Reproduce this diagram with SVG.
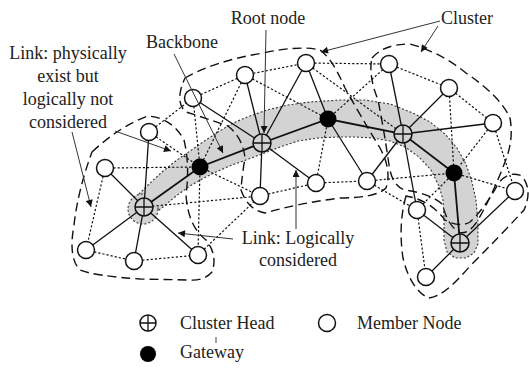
<svg xmlns="http://www.w3.org/2000/svg" width="529" height="368" viewBox="0 0 529 368">
  <style>
    text { font-family: "Liberation Serif", "Times New Roman", "DejaVu Serif", serif; font-size: 18px; fill: #222; }
    .solid { stroke: #111; stroke-width: 1.3; fill: none; }
    .dot { stroke: #111; stroke-width: 1.2; stroke-dasharray: 2.2 2; fill: none; }
    .bb { stroke: #111; stroke-width: 1.8; fill: none; stroke-linecap: round; }
    .clu { stroke: #111; stroke-width: 1.4; stroke-dasharray: 9 5; fill: none; }
    .band { fill: #d3d3d3; stroke: #333; stroke-width: 1.1; stroke-dasharray: 2 2; }
    .bandfill { fill: #d3d3d3; stroke: none; }
    .mem { fill: #fff; stroke: #111; stroke-width: 1.5; }
    .gw { fill: #000; }
    .ch circle { fill: #d3d3d3; stroke: #111; stroke-width: 1.5; }
    .ch path { stroke: #111; stroke-width: 1.3; fill: none; }
    .ptr { stroke: #333; stroke-width: 1; fill: none; marker-end: url(#ah); }
  </style>
  <defs>
    <marker id="ah" viewBox="0 0 10 10" refX="10" refY="5" markerWidth="9" markerHeight="7" markerUnits="userSpaceOnUse" orient="auto">
      <path d="M0,0 L10,5 L0,10 Z" fill="#111"/>
    </marker>
  </defs>

  <rect width="529" height="368" fill="#fff"/>

  <!-- backbone band -->
  <g id="backbone-band">
    <path class="band" d="M136,197 L148,185 L162,172 L177,160 L190,151 L203,142 L218,132 L233,123 L250,116 L267,110 L288,105 L310,102 L340,100 L365,100 L390,104 L413,113 L430,122 L445,134 L457,148 L466,164 L472,182 L476,200 L478,222 L478,244 L474,253 L466,258 L455,258 L447,252 L444,240 L444,218 L443,200 L439,186 L431,170 L419,157 L405,147 L390,141 L373,138 L355,137 L338,137 L318,138 L298,141 L280,147 L262,154 L246,160 L232,165 L218,171 L204,178 L190,186 L176,196 L163,207 L155,213 Z"/>
    <circle class="band" cx="143" cy="209" r="15"/>
    <path class="bandfill" d="M140,199 L160,180 L180,165 L190,170 L170,195 L155,208 Z"/>
  </g>

  <!-- cluster boundaries -->
  <g id="clusters">
    <path class="clu" d="M92,152 Q120,126 148,116 Q172,118 184,140 Q190,165 186,195 Q188,226 206,240 Q218,255 212,272 Q204,281 190,280 L140,279 Q95,276 80,270 Q68,258 74,225 Q78,190 92,152 Z"/>
    <path class="clu" d="M185,78 Q215,61 263,53 Q300,45 320,50 Q332,58 345,88 Q360,115 380,148 Q392,170 386,188 Q376,198 340,198 Q300,203 265,213 Q248,210 241,190 Q242,175 245,158 Q243,138 228,126 Q205,118 186,112 Q174,102 185,78 Z"/>
    <path class="clu" d="M372,58 Q384,44 410,44 Q440,52 466,73 Q500,96 510,118 Q514,140 505,162 Q492,196 478,220 Q468,236 458,232 Q446,222 443,205 Q432,194 405,190 Q392,186 389,165 Q384,130 378,100 Q368,75 372,58 Z"/>
    <path class="clu" d="M406,196 Q398,225 403,258 Q410,288 428,298 Q443,298 470,266 Q500,236 524,210 Q533,190 522,176 Q508,170 498,184 Q485,208 470,222 Q460,228 445,220 Q430,200 406,196 Z"/>
  </g>

  <!-- links -->
  <g id="connectors">
    <!-- logically considered links -->
    <line class="solid" x1="144" y1="207" x2="105" y2="168"/>
    <line class="solid" x1="144" y1="207" x2="149" y2="132"/>
    <line class="solid" x1="144" y1="207" x2="86" y2="250"/>
    <line class="solid" x1="144" y1="207" x2="134" y2="261"/>
    <line class="solid" x1="144" y1="207" x2="198" y2="255"/>
    <line class="solid" x1="262" y1="143" x2="193" y2="98"/>
    <line class="solid" x1="262" y1="143" x2="245" y2="75"/>
    <line class="solid" x1="262" y1="143" x2="306" y2="63"/>
    <line class="solid" x1="262" y1="143" x2="260" y2="196"/>
    <line class="solid" x1="262" y1="143" x2="316" y2="183"/>
    <line class="solid" x1="328" y1="119" x2="306" y2="63"/>
    <line class="solid" x1="328" y1="119" x2="367" y2="181"/>
    <line class="solid" x1="403" y1="134" x2="389" y2="64"/>
    <line class="solid" x1="403" y1="134" x2="449" y2="88"/>
    <line class="solid" x1="403" y1="134" x2="493" y2="123"/>
    <line class="solid" x1="403" y1="134" x2="367" y2="181"/>
    <line class="solid" x1="403" y1="134" x2="417" y2="210"/>
    <line class="solid" x1="460" y1="243" x2="417" y2="210"/>
    <line class="solid" x1="460" y1="243" x2="515" y2="191"/>
    <line class="solid" x1="460" y1="243" x2="426" y2="277"/>
    <!-- backbone -->
    <polyline class="bb" points="144,207 200,167 262,143 328,119 403,134 454,173 460,243"/>
    <!-- physical links not used -->
    <line class="dot" x1="105" y1="168" x2="86" y2="250"/>
    <line class="dot" x1="86" y1="250" x2="134" y2="261"/>
    <line class="dot" x1="134" y1="261" x2="198" y2="255"/>
    <line class="dot" x1="105" y1="168" x2="200" y2="167"/>
    <line class="dot" x1="200" y1="167" x2="198" y2="255"/>
    <line class="dot" x1="144" y1="207" x2="260" y2="196"/>
    <line class="dot" x1="200" y1="167" x2="260" y2="196"/>
    <line class="dot" x1="198" y1="255" x2="260" y2="196"/>
    <line class="dot" x1="149" y1="132" x2="193" y2="98"/>
    <line class="dot" x1="149" y1="132" x2="200" y2="167"/>
    <line class="dot" x1="193" y1="98" x2="200" y2="167"/>
    <line class="dot" x1="193" y1="98" x2="245" y2="75"/>
    <line class="dot" x1="245" y1="75" x2="200" y2="167"/>
    <line class="dot" x1="245" y1="75" x2="306" y2="63"/>
    <line class="dot" x1="245" y1="75" x2="328" y2="119"/>
    <line class="dot" x1="306" y1="63" x2="389" y2="64"/>
    <line class="dot" x1="306" y1="63" x2="403" y2="134"/>
    <line class="dot" x1="389" y1="64" x2="328" y2="119"/>
    <line class="dot" x1="260" y1="196" x2="316" y2="183"/>
    <line class="dot" x1="316" y1="183" x2="367" y2="181"/>
    <line class="dot" x1="328" y1="119" x2="316" y2="183"/>
    <line class="dot" x1="389" y1="64" x2="449" y2="88"/>
    <line class="dot" x1="449" y1="88" x2="493" y2="123"/>
    <line class="dot" x1="449" y1="88" x2="454" y2="173"/>
    <line class="dot" x1="493" y1="123" x2="454" y2="173"/>
    <line class="dot" x1="493" y1="123" x2="515" y2="191"/>
    <line class="dot" x1="367" y1="181" x2="454" y2="173"/>
    <line class="dot" x1="367" y1="181" x2="417" y2="210"/>
    <line class="dot" x1="417" y1="210" x2="454" y2="173"/>
    <line class="dot" x1="454" y1="173" x2="515" y2="191"/>
    <line class="dot" x1="417" y1="210" x2="426" y2="277"/>
  </g>

  <!-- member nodes -->
  <g id="m1"><circle class="mem" cx="245" cy="75" r="8.5"/></g>
  <g id="m2"><circle class="mem" cx="306" cy="63" r="8.5"/></g>
  <g id="m3"><circle class="mem" cx="389" cy="64" r="8.5"/></g>
  <g id="m4"><circle class="mem" cx="449" cy="88" r="8.5"/></g>
  <g id="m5"><circle class="mem" cx="493" cy="123" r="8.5"/></g>
  <g id="m6"><circle class="mem" cx="193" cy="98" r="8.5"/></g>
  <g id="m7"><circle class="mem" cx="149" cy="132" r="8.5"/></g>
  <g id="m8"><circle class="mem" cx="105" cy="168" r="8.5"/></g>
  <g id="m9"><circle class="mem" cx="260" cy="196" r="8.5"/></g>
  <g id="m10"><circle class="mem" cx="316" cy="183" r="8.5"/></g>
  <g id="m11"><circle class="mem" cx="367" cy="181" r="8.5"/></g>
  <g id="m12"><circle class="mem" cx="417" cy="210" r="8.5"/></g>
  <g id="m13"><circle class="mem" cx="515" cy="191" r="8.5"/></g>
  <g id="m14"><circle class="mem" cx="86" cy="250" r="8.5"/></g>
  <g id="m15"><circle class="mem" cx="134" cy="261" r="8.5"/></g>
  <g id="m16"><circle class="mem" cx="198" cy="255" r="8.5"/></g>
  <g id="m17"><circle class="mem" cx="426" cy="277" r="8.5"/></g>

  <!-- gateways -->
  <g id="g1"><circle class="gw" cx="200" cy="167" r="8.5"/></g>
  <g id="g2"><circle class="gw" cx="328" cy="119" r="8.5"/></g>
  <g id="g3"><circle class="gw" cx="454" cy="173" r="8.5"/></g>

  <!-- cluster heads -->
  <g id="c1" class="ch"><circle cx="144" cy="207" r="9"/><path d="M135,207 H153 M144,198 V216"/></g>
  <g id="c2" class="ch"><circle cx="262" cy="143" r="9"/><path d="M253,143 H271 M262,134 V152"/></g>
  <g id="c3" class="ch"><circle cx="403" cy="134" r="9"/><path d="M394,134 H412 M403,125 V143"/></g>
  <g id="c4" class="ch"><circle cx="460" cy="243" r="9"/><path d="M451,243 H469 M460,234 V252"/></g>

  <!-- annotations -->
  <g id="label-root">
    <text font-family="Liberation Serif, serif" x="268" y="24" text-anchor="middle">Root node</text>
    <line class="ptr" x1="266" y1="30" x2="264" y2="133"/>
  </g>
  <g id="label-backbone">
    <text font-family="Liberation Serif, serif" x="182" y="48" text-anchor="middle">Backbone</text>
    <line class="ptr" x1="174" y1="54" x2="223" y2="153"/>
  </g>
  <g id="label-cluster">
    <text font-family="Liberation Serif, serif" x="441" y="24">Cluster</text>
    <line class="ptr" x1="440" y1="21" x2="321" y2="52"/>
    <line class="ptr" x1="438" y1="26" x2="421" y2="52"/>
  </g>
  <g id="label-physical">
    <text font-family="Liberation Serif, serif" x="68" y="59" text-anchor="middle">Link: physically</text>
    <text font-family="Liberation Serif, serif" x="68" y="82" text-anchor="middle">exist but</text>
    <text font-family="Liberation Serif, serif" x="68" y="105" text-anchor="middle">logically not</text>
    <text font-family="Liberation Serif, serif" x="68" y="128" text-anchor="middle">considered</text>
    <line class="ptr" x1="115" y1="131" x2="171" y2="151"/>
    <line class="ptr" x1="72" y1="132" x2="91" y2="207"/>
  </g>
  <g id="label-logical">
    <text font-family="Liberation Serif, serif" x="298" y="244" text-anchor="middle">Link: Logically</text>
    <text font-family="Liberation Serif, serif" x="298" y="266" text-anchor="middle">considered</text>
    <line class="ptr" x1="233" y1="239" x2="178" y2="233"/>
    <line class="ptr" x1="296" y1="229" x2="296" y2="170"/>
  </g>

  <!-- legend -->
  <g id="legend">
    <g id="legend-ch">
      <circle cx="148" cy="323" r="8" fill="#fff" stroke="#111" stroke-width="1.5"/>
      <path d="M140,323 H156 M148,315 V331" stroke="#111" stroke-width="1.3"/>
      <text font-family="Liberation Serif, serif" x="180" y="329">Cluster Head</text>
      <line x1="216" y1="337" x2="216" y2="343" stroke="#444" stroke-width="1"/>
    </g>
    <g id="legend-member">
      <circle class="mem" cx="327" cy="323" r="8.5"/>
      <text font-family="Liberation Serif, serif" x="357" y="329">Member Node</text>
    </g>
    <g id="legend-gw">
      <circle class="gw" cx="148" cy="354" r="8"/>
      <text font-family="Liberation Serif, serif" x="180" y="358">Gateway</text>
    </g>
  </g>
</svg>
